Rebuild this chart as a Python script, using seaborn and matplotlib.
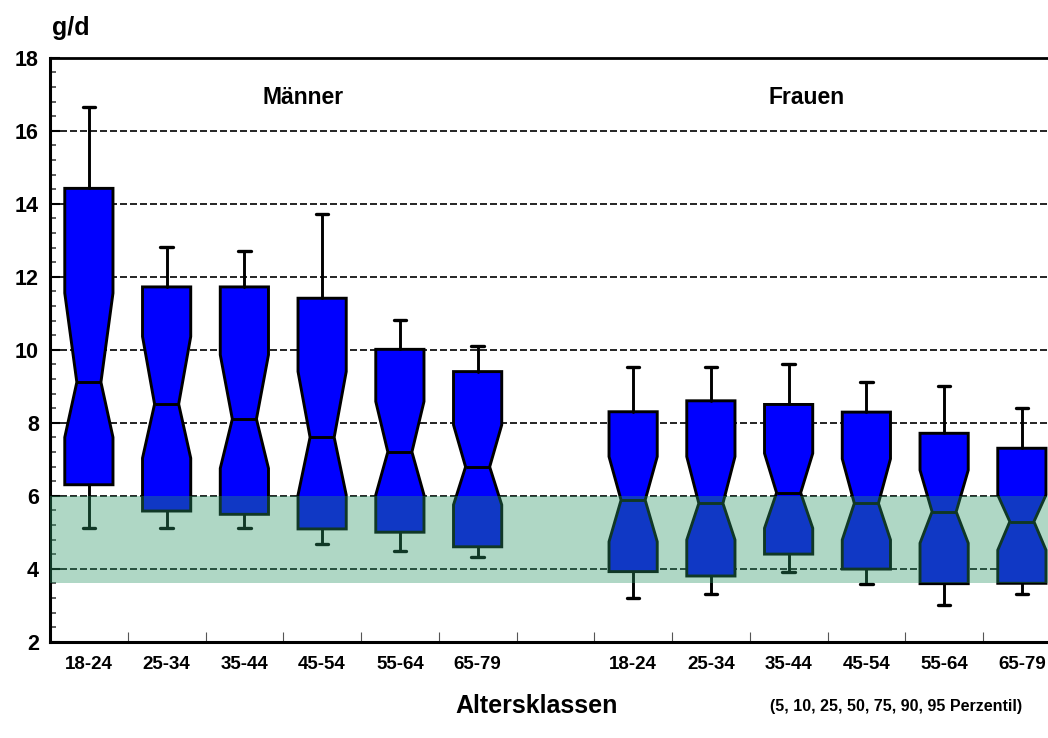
import matplotlib
matplotlib.use("Agg")
import matplotlib.pyplot as plt
import seaborn as sns
import numpy as np
from matplotlib.ticker import MultipleLocator, FixedLocator

# ---------------- data ----------------
groups = ["Männer", "Frauen"]
age_classes = ["18-24", "25-34", "35-44", "45-54", "55-64", "65-79"]

# Männer percentiles and notch limits (g/d)
m_p05 = [5.11, 5.11, 5.11, 4.69, 4.49, 4.31]
m_q1 = [6.30, 5.58, 5.49, 5.09, 5.00, 4.60]
m_ci_lo = [7.60, 7.03, 6.75, 6.02, 6.02, 5.75]
m_med = [9.11, 8.51, 8.10, 7.60, 7.20, 6.79]
m_ci_hi = [11.55, 10.36, 9.86, 9.40, 8.58, 7.94]
m_q3 = [14.42, 11.72, 11.72, 11.41, 10.01, 9.40]
m_p95 = [16.64, 12.82, 12.71, 13.72, 10.81, 10.10]

# Frauen
f_p05 = [3.19, 3.30, 3.92, 3.59, 3.00, 3.31]
f_q1 = [3.92, 3.80, 4.40, 3.99, 3.59, 3.60]
f_ci_lo = [4.74, 4.79, 5.11, 4.79, 4.70, 4.51]
f_med = [5.88, 5.79, 6.08, 5.79, 5.56, 5.29]
f_ci_hi = [7.07, 7.07, 7.16, 7.01, 6.70, 6.02]
f_q3 = [8.30, 8.60, 8.50, 8.29, 7.71, 7.30]
f_p95 = [9.52, 9.52, 9.60, 9.12, 9.01, 8.39]

# reference band (g/d)
band_lo, band_hi = 3.62, 6.0

y_ticks = [2, 4, 6, 8, 10, 12, 14, 16, 18]

# ---------------- style ----------------
sns.set_theme(style="white")
plt.rcParams['font.family'] = ['Liberation Sans', 'DejaVu Sans']
for k in ['text.color', 'axes.labelcolor', 'xtick.color', 'ytick.color', 'axes.edgecolor']:
    plt.rcParams[k] = 'black'

fig = plt.figure(figsize=(10.48, 7.38), dpi=100)
ax = fig.add_axes([50 / 1048, 96.3 / 738, 1010.75 / 1048, 584 / 738])

series = [
    (m_p05, m_q1, m_ci_lo, m_med, m_ci_hi, m_q3, m_p95),
    (f_p05, f_q1, f_ci_lo, f_med, f_ci_hi, f_q3, f_p95),
]
stats, positions = [], []
for gi, (p05, q1, lo, med, hi, q3, p95) in enumerate(series):
    for i, lab in enumerate(age_classes):
        stats.append(dict(med=med[i], q1=q1[i], q3=q3[i], whislo=p05[i],
                          whishi=p95[i], cilo=lo[i], cihi=hi[i], fliers=[],
                          label=lab))
        positions.append(i + gi * 7)

box_w, notch_w, cap_w = 0.62, 0.40, 0.16
art = ax.bxp(stats, positions=positions, widths=box_w, capwidths=notch_w,
             shownotches=True, patch_artist=True, showfliers=False,
             manage_ticks=False, zorder=3,
             boxprops=dict(facecolor='#0000ff', edgecolor='black', linewidth=2.1),
             medianprops=dict(color='black', linewidth=2.1, solid_capstyle='butt'),
             whiskerprops=dict(color='black', linewidth=2.1),
             capprops=dict(color='black', linewidth=2.4))
for k, pos in enumerate(positions):
    for c in art['caps'][2 * k:2 * k + 2]:
        c.set_xdata([pos - cap_w / 2, pos + cap_w / 2])

# translucent green reference band drawn over the boxes
ax.axhspan(band_lo, band_hi, color='#2c9767', alpha=0.375, lw=0, zorder=4)

# dashed grid
for y in y_ticks[1:-1]:
    ax.axhline(y, color='black', lw=1.2, dashes=(4.2, 1.8), zorder=2)

ax.set_xlim(-0.5, 12.5)
ax.set_ylim(2, 18)

for side in ['left', 'bottom', 'top']:
    ax.spines[side].set_visible(True)
    ax.spines[side].set_color('black')
    ax.spines[side].set_linewidth(2.2)
ax.spines['top'].set_linewidth(2.0)
ax.spines['right'].set_visible(False)

ax.set_yticks(y_ticks)
ax.set_yticklabels([str(v) for v in y_ticks], fontsize=15.5, fontweight='bold')
ax.yaxis.set_minor_locator(MultipleLocator(0.4))
ax.set_xticks(positions)
ax.set_xticklabels(age_classes * 2, fontsize=13.5, fontweight='bold')
ax.xaxis.set_minor_locator(FixedLocator(np.arange(0.5, 12.5, 1.0)))

ax.tick_params(which='both', bottom=True, left=True, top=False, right=False)
ax.tick_params(axis='y', which='major', direction='in', length=7, width=1.5, pad=8)
ax.tick_params(axis='y', which='minor', direction='in', length=4.5, width=1.2, color='#444444')
ax.tick_params(axis='x', which='major', length=0, pad=10)
ax.tick_params(axis='x', which='minor', direction='in', length=7.5, width=0.8, color='#555555')
ax.grid(False)

ax.text(2.76, 16.73, groups[0], ha='center', va='baseline', fontsize=16.5, fontweight='bold')
ax.text(9.23, 16.73, groups[1], ha='center', va='baseline', fontsize=16.5, fontweight='bold')

fig.text(52 / 1048, 1 - 35 / 738, "g/d", ha='left', va='baseline', fontsize=18, fontweight='bold')
fig.text(537 / 1048, 1 - 713 / 738, "Altersklassen", ha='center', va='baseline',
         fontsize=18, fontweight='bold')
fig.text(896 / 1048, 1 - 711 / 738, "(5, 10, 25, 50, 75, 90, 95 Perzentil)",
         ha='center', va='baseline', fontsize=11.5, fontweight='bold')

fig.savefig("out.png", dpi=100)
